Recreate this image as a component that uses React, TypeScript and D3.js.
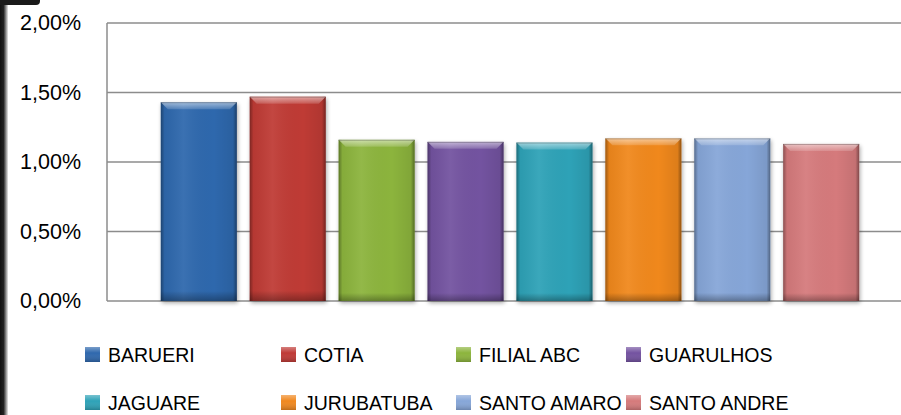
import React from "react";
import * as d3 from "d3";

const categories = ["BARUERI", "COTIA", "FILIAL ABC", "GUARULHOS", "JAGUARE", "JURUBATUBA", "SANTO AMARO", "SANTO ANDRE"];
const values = [0.0143, 0.0147, 0.0116, 0.01145, 0.0114, 0.0117, 0.0117, 0.0113];
const colors = ["#2f68ad", "#bf3a36", "#8cb43c", "#7352a0", "#2ea2b7", "#f0881f", "#86a6d8", "#d57a7b"];
const yTicks = [0, 0.005, 0.01, 0.015, 0.02];

const W = 901;
const H = 415;
const plotLeft = 107;
const plotRight = 913;
const plotTop = 23;
const plotBottom = 301;
const FONT = "'Liberation Sans', Arial, sans-serif";

const legendCols = [85, 281, 456, 626];
const legendRows = [355, 403];

const fmt = (v: number) => (v * 100).toFixed(2).replace(".", ",") + "%";

export default function App() {
  const x = d3.scaleBand<string>().domain(categories).range([plotLeft, plotRight]).paddingInner(0.145).paddingOuter(0.605);
  const y = d3.scaleLinear().domain([0, 0.02]).range([plotBottom, plotTop]);
  const bw = x.bandwidth();

  return (
    <svg width={W} height={H} style={{ position: "absolute", left: 0, top: 0, background: "#fff" }} fontFamily={FONT}>
      <defs>
        <filter id="shadow" x="-20%" y="-20%" width="140%" height="140%">
          <feGaussianBlur in="SourceAlpha" stdDeviation="2" />
          <feOffset dx="1" dy="2" result="b" />
          <feComponentTransfer><feFuncA type="linear" slope="0.35" /></feComponentTransfer>
          <feMerge><feMergeNode /><feMergeNode in="SourceGraphic" /></feMerge>
        </filter>
        <linearGradient id="edgeH" x1="0" x2="1" y1="0" y2="0">
          <stop offset="0" stopColor="#000" stopOpacity="0.35" />
          <stop offset="0.05" stopColor="#000" stopOpacity="0.05" />
          <stop offset="0.3" stopColor="#fff" stopOpacity="0.06" />
          <stop offset="0.7" stopColor="#000" stopOpacity="0" />
          <stop offset="0.95" stopColor="#000" stopOpacity="0.08" />
          <stop offset="1" stopColor="#000" stopOpacity="0.4" />
        </linearGradient>
        <linearGradient id="edgeV" x1="0" x2="0" y1="0" y2="1">
          <stop offset="0" stopColor="#fff" stopOpacity="0" />
          <stop offset="0.95" stopColor="#000" stopOpacity="0" />
          <stop offset="1" stopColor="#000" stopOpacity="0.3" />
        </linearGradient>
        <linearGradient id="bevel" x1="0" x2="0" y1="0" y2="1">
          <stop offset="0" stopColor="#fff" stopOpacity="0.55" />
          <stop offset="1" stopColor="#fff" stopOpacity="0.15" />
        </linearGradient>
        <linearGradient id="leftStrip" x1="0" x2="1" y1="0" y2="0">
          <stop offset="0" stopColor="#111" />
          <stop offset="0.45" stopColor="#222" />
          <stop offset="1" stopColor="#e8e8e8" />
        </linearGradient>
        <linearGradient id="swatchG" x1="0" x2="0" y1="0" y2="1">
          <stop offset="0" stopColor="#fff" stopOpacity="0.35" />
          <stop offset="0.4" stopColor="#fff" stopOpacity="0" />
          <stop offset="1" stopColor="#000" stopOpacity="0.2" />
        </linearGradient>
      </defs>

      {/* left dark frame strip */}
      <rect x={0} y={0} width={8} height={H} fill="url(#leftStrip)" />
      <path d="M0,0 H40 V1 Q40,5 36,5 H0 Z" fill="#1a1a1a" />

      {/* gridlines */}
      {yTicks.map((t) => (
        <line key={t} x1={plotLeft} x2={W} y1={y(t)} y2={y(t)} stroke="#8c8c8c" strokeWidth={1.5} />
      ))}
      <line x1={plotLeft} x2={plotLeft} y1={plotTop} y2={plotBottom} stroke="#8c8c8c" strokeWidth={1.5} />

      {/* y tick labels */}
      {yTicks.map((t) => (
        <text key={t} x={81} y={y(t)} textAnchor="end" dominantBaseline="central" fontSize={21.5} fill="#000">
          {fmt(t)}
        </text>
      ))}

      {/* bars */}
      {categories.map((c, i) => {
        const x0 = x(c)!;
        const y0 = y(values[i]);
        const h = plotBottom - y0;
        const bv = 7;
        return (
          <g key={c}>
            <rect x={x0} y={y0} width={bw} height={h} fill={colors[i]} filter="url(#shadow)" />
            <rect x={x0} y={y0} width={bw} height={h} fill="url(#edgeH)" />
            <rect x={x0} y={y0} width={bw} height={h} fill="url(#edgeV)" />
            <path
              d={`M${x0},${y0} H${x0 + bw} L${x0 + bw - bv},${y0 + bv} H${x0 + bv} Z`}
              fill="url(#bevel)"
            />
            <line x1={x0} x2={x0 + bw} y1={y0 + 0.5} y2={y0 + 0.5} stroke="#000" strokeOpacity={0.25} />
          </g>
        );
      })}

      {/* legend */}
      {categories.map((c, i) => {
        const col = i % 4;
        const row = Math.floor(i / 4);
        const lx = legendCols[col];
        const ly = legendRows[row];
        return (
          <g key={c}>
            <rect x={lx} y={ly - 8} width={15} height={15} fill={colors[i]} />
            <rect x={lx} y={ly - 8} width={15} height={15} fill="url(#swatchG)" />
            <text x={lx + 23} y={ly} dominantBaseline="central" fontSize={19.5} fill="#000">
              {c}
            </text>
          </g>
        );
      })}
    </svg>
  );
}
